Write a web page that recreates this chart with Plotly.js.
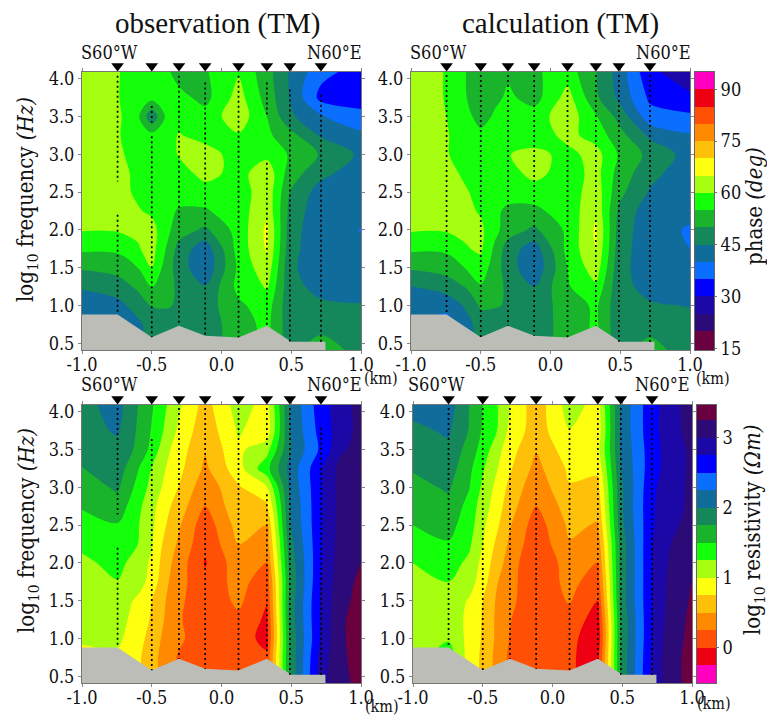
<!DOCTYPE html>
<html>
<head>
<meta charset="utf-8">
<script src="https://cdn.plot.ly/plotly-3.0.1.min.js"></script>
<style>html,body{margin:0;padding:0;background:#fff}#chart{width:767px;height:715px}</style>
</head>
<body>
<div id="chart"></div>
<script>
// frequency rows (log10 Hz), top to bottom
const logFreq = [4.09,3.75,3.5,3.25,3,2.75,2.5,2.25,2,1.75,1.5,1.25,1,0.75,0.41];
// profile columns (km)
const xPhase = [-1,-0.745,-0.6,-0.5,-0.4,-0.305,-0.117,0.122,0.325,0.49,0.713,1];
const xRes = [-1,-0.745,-0.6,-0.5,-0.4,-0.305,-0.117,0.122,0.325,0.49,0.713,0.85,1];

const phaseObs = [
[62,60.3,58,57.5,56,53,54.5,59.5,52,44.5,36.5,33],
[62,60.3,57,56.5,56,56.5,53.5,62,53,44.8,33.5,32],
[62,61,56,46,55.5,57.5,57,63,55,46,40.5,37],
[62,60.5,57,56.5,57,60.5,57.5,59.5,56,52,44.5,41],
[62,61,58,57,57,60.5,63,57,58.5,54.5,49.5,44],
[62,61.5,59,57.5,57,57.5,62,58,63.5,52.5,46.5,42],
[62,62,59,58,57.5,57,57.5,57,63.5,50,42.5,41],
[62,62.5,60.5,59,56.5,54.5,54.5,57.5,64,48.5,41.5,41],
[60.3,60.5,61,62,56.5,52.5,49,57,66,47.5,41,39.9],
[56,56,59.5,62,55,48,42,57,65.5,47,41,41],
[50.6,52,55,60,53,47.5,41,56,63.5,46,42,42],
[45.6,47.5,51,55.3,52,49,45.3,56.5,60.5,46.5,43.5,43.5],
[42,43.5,47,50.3,50.5,49.5,47.5,54,57.5,46.5,45.8,45.2],
[42,42,44,47,47.5,47.5,47.5,52.5,56.5,47,46.5,46.5],
[42,42,44,47,47.5,47.5,47.5,52.5,56.5,47,55,46.5]
];
const phaseCalc = [
[62,59.8,54.8,50.5,53,54,54.2,57.5,50.3,43,31,27],
[62,59.8,55,51.5,53.5,56,53,62,51,44,34,30.8],
[62,60,57,52,56,58,57.5,63,55.5,48.5,37,36],
[62,60.3,58,57,57.5,58,57,61.5,58,52,44,40.5],
[62,60.3,58,57.5,57.5,59.8,61.5,58.5,62,54.5,48.5,43],
[62,61.5,59,57.5,57,57.5,62,57,62,53,46.5,42],
[62,62.5,60.3,58.5,57.5,57,57,57,63,51.5,44.5,41],
[62,62.5,61,59.5,56,54,54,57,64,49,42,41],
[60.5,60.6,61,61,56.5,52.5,49,56,65.8,48,41.5,39.6],
[56,56,59.7,60.8,54,47.5,42.5,56.5,65,47.5,41.5,39.9],
[50.6,52,55.5,58,52.5,47.5,41,55,63,46.5,42.5,42],
[45,47.5,50.5,54.5,52,49,45,54.5,59,46.5,43.5,43.5],
[41.5,41.5,46,50.8,50.5,49.5,47.5,52,56,46.5,45.5,44.8],
[41,38,43.5,47,47,47,48,51.5,56,46.5,47,46.5],
[41,38,43.5,47,47,47,48,51.5,56,47,53,46]
];
const resObs = [
[1.92,2.1,1.75,1.53,1.27,1.05,0.65,1.12,0.9,2.02,2.65,2.87,3.12],
[1.9,2.03,1.72,1.48,1.2,0.95,0.58,1.03,0.85,2,2.6,2.88,3.08],
[1.87,1.92,1.7,1.42,1.07,0.87,0.52,0.95,1.15,1.98,2.55,2.95,3.1],
[1.74,1.88,1.52,1.24,1,0.82,0.45,0.9,1.42,2.08,2.72,3.08,3.26],
[1.62,1.79,1.42,1.17,0.93,0.74,0.33,0.72,0.98,2.05,2.72,3.08,3.2],
[1.52,1.65,1.32,1.08,0.83,0.62,0.25,0.67,0.7,2,2.72,3.08,3.18],
[1.41,1.48,1.27,1.05,0.76,0.53,0.1,0.6,0.5,1.98,2.72,3.08,3.18],
[1.3,1.4,1.25,1.02,0.66,0.46,0.05,0.5,0.38,1.9,2.72,3.1,3.2],
[1.2,1.32,1.15,0.95,0.6,0.38,-0.02,0.4,0.25,1.85,2.72,3.12,3.25],
[1.19,1.24,1.12,0.9,0.55,0.34,0.06,0.35,0.1,1.8,2.75,3.15,3.3],
[1.17,1.15,0.95,0.75,0.5,0.3,0.08,0.3,0.02,1.85,2.78,3.17,3.33],
[1.14,1.1,0.9,0.72,0.47,0.28,0.05,0.2,-0.05,1.85,2.78,3.2,3.38],
[1.1,1.05,0.85,0.65,0.42,0.3,0.08,0.12,-0.08,1.8,2.78,3.2,3.38],
[0.8,0.95,0.8,0.6,0.38,0.22,0.1,0.08,0.05,1.8,2.85,3.2,3.35],
[0.8,0.95,0.8,0.6,0.38,0.22,0.1,0.08,0.05,1.8,2.9,3.2,3.3]
];
const resCalc = [
[2.08,2.12,1.76,1.5,1.27,1,0.6,1.12,0.9,2.05,2.68,2.87,3.15],
[1.95,2.03,1.74,1.47,1.26,0.93,0.62,0.99,0.85,2.05,2.68,2.88,3.12],
[1.85,1.95,1.65,1.4,1.1,0.85,0.52,0.9,0.92,2.03,2.65,2.88,3.05],
[1.77,1.87,1.57,1.28,1.02,0.78,0.42,0.8,0.8,2,2.65,2.88,3.05],
[1.68,1.78,1.52,1.2,0.93,0.68,0.33,0.73,0.68,1.95,2.7,2.9,3.05],
[1.58,1.68,1.42,1.12,0.88,0.6,0.25,0.62,0.58,1.95,2.72,2.92,3.05],
[1.5,1.58,1.38,1.05,0.8,0.52,0.12,0.55,0.48,1.92,2.72,2.95,3.08],
[1.38,1.48,1.3,1,0.7,0.45,0.07,0.48,0.35,1.85,2.75,3,3.1],
[1.25,1.35,1.2,0.92,0.62,0.38,0,0.38,0.24,1.85,2.75,3.05,3.2],
[1.2,1.25,1.12,0.87,0.52,0.33,0.06,0.33,0.12,1.85,2.75,3.08,3.25],
[1.17,1.15,0.98,0.75,0.47,0.3,0.1,0.27,0,1.85,2.75,3.1,3.28],
[1.14,1.13,0.95,0.73,0.45,0.26,0.08,0.17,-0.13,1.8,2.75,3.13,3.3],
[1.12,1.22,0.93,0.72,0.45,0.24,0.07,0.08,-0.18,1.8,2.75,3.17,3.3],
[1.1,1.4,0.9,0.7,0.42,0.2,0.1,0.03,-0.1,1.8,2.78,3.2,3.3],
[1.1,1.4,0.9,0.7,0.42,0.2,0.1,0.03,-0.1,1.8,2.8,3.2,3.3]
];

// measurement stations and surface elevation (log frequency of the masked floor)
const stations = [-0.745,-0.5,-0.305,-0.117,0.122,0.325,0.49,0.713];
const floorX = [-1,-0.745,-0.5,-0.305,-0.117,0.122,0.325,0.5,0.745,0.745,-1];
const floorY = [0.88,0.88,0.58,0.73,0.6,0.575,0.73,0.52,0.52,0.41,0.41];
// dotted segments per station: [top,bottom] pairs where dots are drawn
const dotsObsPhase = [[[4.04,2.64],[2.2,0.88]],[[3.64,3.42],[3.24,0.58]],[[4.04,0.73]],[[3.95,0.6]],[[4.04,0.58]],[[3.95,3.53],[2.89,0.73]],[[3.86,0.52]],[[3.79,0.52]]];
const dotsObsRes = [[[4.05,2.64],[2.2,0.88]],[[3.64,0.58]],[[4.05,0.73]],[[4.05,0.6]],[[4.05,0.58]],[[4.05,3.52],[2.91,0.73]],[[4.05,0.52]],[[3.79,0.52]]];
const dotsCalc = [[[4.05,0.88]],[[4.05,0.58]],[[4.05,0.73]],[[4.05,0.6]],[[4.05,0.58]],[[4.05,0.73]],[[4.05,0.52]],[[4.05,0.52]]];

const bandColors = ['#6a0040','#2c0a78','#1c08a6','#0000ff','#0a6eff','#106c9a','#14885a','#19b42c','#14ff0a','#a6ff10','#ffff10','#ffc00a','#ff8a00','#ff5005','#ee0012','#ff00c0'];
const xTickVals = [-1,-0.5,0,0.5,1];
const xTickText = ['-1.0','-0.5','0.0','0.5','1.0'];
const yTickVals = [0.5,1,1.5,2,2.5,3,3.5,4];
const yTickText = ['0.5','1.0','1.5','2.0','2.5','3.0','3.5','4.0'];
// colour-bar bands: edges, band centres and tick labels
const phaseEdges = [14.5,20,25,30,35,40,45,50,55,60,65,70,75,80,85,90,95];
const phaseMids = [17.5,22.5,27.5,32.5,37.5,42.5,47.5,52.5,57.5,62.5,67.5,72.5,77.5,82.5,87.5,92.5];
const phaseTicks = [15,30,45,60,75,90];
const resEdges = [-0.5,-0.25,0,0.25,0.5,0.75,1,1.25,1.5,1.75,2,2.25,2.5,2.75,3,3.25,3.47];
const resMids = [-0.375,-0.125,0.125,0.375,0.625,0.875,1.125,1.375,1.625,1.875,2.125,2.375,2.625,2.875,3.125,3.375];
const resTicks = [0,1,2,3];

const W = 767, H = 715;
const SERIF = '"DejaVu Serif Condensed","DejaVu Serif",serif';
const panels = [
 {px:[82,361],py:[72,350],z:phaseObs,x:xPhase,dots:dotsObsPhase,colors:bandColors,lv:[20,90,5]},
 {px:[411,690],py:[72,350],z:phaseCalc,x:xPhase,dots:dotsCalc,colors:bandColors,lv:[20,90,5],
  bar:{px:[695,714],edges:phaseEdges,mids:phaseMids,ticks:phaseTicks}},
 {px:[82,361],py:[405,683],z:resObs,x:xRes,dots:dotsObsRes,colors:bandColors.slice().reverse(),lv:[-0.25,3.25,0.25]},
 {px:[413,692],py:[405,683],z:resCalc,x:xRes,dots:dotsCalc,colors:bandColors.slice().reverse(),lv:[-0.25,3.25,0.25],
  bar:{px:[697,716],edges:resEdges,mids:resMids,ticks:resTicks}}
];
const bandScale = colors => colors.map((c,j)=>[j/(colors.length-1),c]);

const data = [], layout = {
  width:W,height:H,margin:{l:0,r:0,t:0,b:0},paper_bgcolor:'#fff',plot_bgcolor:'rgba(0,0,0,0)',
  showlegend:false,font:{family:SERIF,size:18,color:'#111'},annotations:[]
};
const TICKFONT = {family:SERIF,size:18,color:'#111'};
panels.forEach((p,i)=>{
  const k = i+1, xa = 'x'+k, ya = 'y'+k, yo = 'y'+(k+4);
  data.push({type:'contour',x:p.x,y:logFreq.slice().reverse(),z:p.z.slice().reverse(),xaxis:xa,yaxis:ya,
    autocontour:false,contours:{start:p.lv[0],end:p.lv[1],size:p.lv[2],coloring:'fill',showlines:false},
    line:{width:0},colorscale:bandScale(p.colors),showscale:false,hoverinfo:'skip'});
  data.push({type:'scatter',mode:'lines',x:floorX,y:floorY,xaxis:xa,yaxis:ya,fill:'toself',fillcolor:'#bdbdb7',line:{width:0},hoverinfo:'skip'});
  const dx=[],dy=[];
  p.dots.forEach((segs,s)=>segs.forEach(seg=>{dx.push(stations[s],stations[s],null);dy.push(seg[0],seg[1],null);}));
  data.push({type:'scatter',mode:'lines',x:dx,y:dy,xaxis:xa,yaxis:ya,line:{color:'#000',width:1.7,dash:'2px,3px'},hoverinfo:'skip'});
  data.push({type:'scatter',mode:'markers',x:stations,y:stations.map(()=>4.17),xaxis:xa,yaxis:yo,
    marker:{symbol:'triangle-down',size:11,color:'#000',line:{width:0}},hoverinfo:'skip'});
  const axCommon = {showgrid:false,zeroline:false,ticks:'outside',ticklen:3,tickwidth:1,tickcolor:'#888',
     showline:true,linecolor:'#777',linewidth:1,mirror:'ticks',tickfont:TICKFONT,tickmode:'array'};
  layout['xaxis'+k] = Object.assign({},axCommon,{anchor:ya,domain:[p.px[0]/W,p.px[1]/W],range:[-1,1],tickvals:xTickVals,ticktext:xTickText,ticklabelstandoff:-5});
  layout['yaxis'+k] = Object.assign({},axCommon,{anchor:xa,domain:[1-p.py[1]/H,1-p.py[0]/H],range:[0.41,4.09],tickvals:yTickVals,ticktext:yTickText});
  // invisible extension of the frequency axis for the station triangles above the plot
  const extra = 22, pxPerUnit = (p.py[1]-p.py[0])/3.68;
  layout['yaxis'+(k+4)] = {visible:false,anchor:xa,domain:[1-p.py[1]/H,1-(p.py[0]-extra)/H],range:[0.41,4.09+extra/pxPerUnit],fixedrange:true};
  if(p.bar){
    const n = k===2?9:10, b=p.bar;
    data.push({type:'heatmap',x:[0,1],y:b.edges,z:b.mids.map(v=>[v]),xaxis:'x'+n,yaxis:'y'+n,
      colorscale:bandScale(p.colors),zmin:b.mids[0],zmax:b.mids[b.mids.length-1],showscale:false,hoverinfo:'skip'});
    layout['xaxis'+n] = {anchor:'y'+n,domain:[b.px[0]/W,b.px[1]/W],range:[0,1],showticklabels:false,ticks:'',showgrid:false,zeroline:false,showline:true,linecolor:'#666',linewidth:1,mirror:true};
    layout['yaxis'+n] = {anchor:'x'+n,domain:[1-p.py[1]/H,1-p.py[0]/H],range:[b.edges[0],b.edges[b.edges.length-1]],side:'right',
      tickmode:'array',tickvals:b.ticks,ticktext:b.ticks.map(String),ticks:'outside',ticklen:2,tickcolor:'#777',tickfont:TICKFONT,
      showgrid:false,zeroline:false,showline:true,linecolor:'#666',linewidth:1,mirror:true};
  }
});

function note(text,x,y,size,opts){
  layout.annotations.push(Object.assign({text:text,xref:'paper',yref:'paper',x:x/W,y:1-y/H,showarrow:false,
    xanchor:'center',yanchor:'middle',font:{family:SERIF,size:size,color:'#111'}},opts||{}));
}
const TITLE = '"Liberation Serif",serif';
note('observation (TM)',217,24,29,{font:{family:TITLE,size:29,color:'#111'}});
note('calculation (TM)',560,24,29,{font:{family:TITLE,size:29,color:'#111'}});
[[109,52],[438,52],[109,384],[436,384]].forEach(a=>note('S60°W',a[0],a[1],18));
[[334,52],[663,52],[334,384],[662,384]].forEach(a=>note('N60°E',a[0],a[1],18));
[[381,378],[713,378],[382,706],[714,703]].forEach(a=>note('(km)',a[0],a[1],16));
note('log<sub>10</sub> frequency <i>(Hz)</i>',27,200,22,{textangle:-90});
note('log<sub>10</sub> frequency <i>(Hz)</i>',28,531,22,{textangle:-90});
note('phase <i>(deg)</i>',755,206,22,{textangle:-90});
note('log<sub>10</sub> resistivity <i>(Ωm)</i>',754,530,22,{textangle:-90});

Plotly.newPlot('chart',data,layout,{displayModeBar:false,staticPlot:true});
</script>
</body>
</html>
